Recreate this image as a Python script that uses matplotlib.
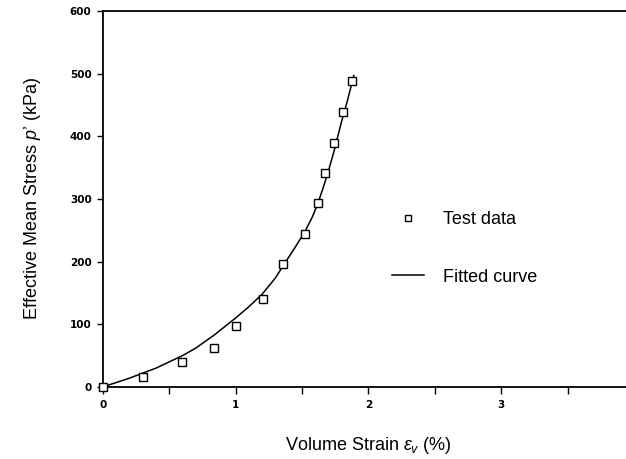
import matplotlib
matplotlib.use("Agg")
import matplotlib.pyplot as plt

# Test data (volume strain %, effective mean stress kPa)
test_strain = [0.0, 0.30, 0.60, 0.84, 1.00, 1.21, 1.36, 1.52, 1.62, 1.67, 1.74, 1.81, 1.875]
test_stress = [0, 16, 40, 63, 98, 141, 196, 244, 293, 341, 390, 439, 489]

# Fitted curve
fit_strain = [0.0, 0.1, 0.2, 0.3, 0.4, 0.5, 0.6, 0.7, 0.84, 1.0, 1.1, 1.2, 1.3, 1.36,
              1.44, 1.52, 1.58, 1.62, 1.66, 1.70, 1.74, 1.77, 1.80, 1.84, 1.87, 1.89]
fit_stress = [0, 7, 14, 22, 30, 40, 50, 62, 83, 110, 128, 148, 174, 194,
              220, 247, 272, 293, 318, 345, 375, 400, 425, 455, 480, 497]

x_ticks = [0, 1, 2, 3]
x_minor = [0.5, 1.5, 2.5, 3.5]
y_ticks = [0, 100, 200, 300, 400, 500, 600]

plt.rcParams['font.family'] = ['Liberation Sans', 'DejaVu Sans']
plt.rcParams['mathtext.fontset'] = 'custom'
plt.rcParams['mathtext.rm'] = 'Liberation Sans'
plt.rcParams['mathtext.it'] = 'Liberation Sans:italic'

fig = plt.figure(figsize=(6.26, 4.59), dpi=100)
ax = fig.add_axes([102.7 / 626, 1 - 387 / 459, (634 - 102.7) / 626, (387 - 11) / 459])

ax.plot(fit_strain, fit_stress, color='black', lw=1.1, label='Fitted curve')
ax.plot(test_strain, test_stress, linestyle='none', marker='s', markersize=5.2,
        markerfacecolor='white', markeredgecolor='black', markeredgewidth=1.0,
        label='Test data', clip_on=False, zorder=3)

ax.set_xlim(0, 4)
ax.set_ylim(0, 600)
ax.set_xticks(x_ticks)
ax.set_xticks(x_minor, minor=True)
ax.set_yticks(y_ticks)
for lab in ax.get_xticklabels() + ax.get_yticklabels():
    lab.set_fontfamily('DejaVu Sans')
    lab.set_fontweight('bold')
    lab.set_fontsize(7.5)
ax.tick_params(axis='both', direction='out', length=5, width=1.0, pad=4)
ax.tick_params(axis='x', which='minor', direction='out', length=5, width=1.0)
ax.tick_params(axis='y', length=4)

for s in ['left', 'bottom', 'top']:
    ax.spines[s].set_linewidth(1.3)
ax.spines['right'].set_visible(False)

ax.set_xlabel(r"Volume Strain $\varepsilon_v$ (%)", fontsize=13, labelpad=18)
ax.set_ylabel(r"Effective Mean Stress $p$’ (kPa)", fontsize=13, labelpad=19)

h, l = ax.get_legend_handles_labels()
leg = ax.legend([h[1], h[0]], [l[1], l[0]], frameon=False, fontsize=13,
                loc='upper left', bbox_to_anchor=(392 / 626, 1 - 211 / 459),
                bbox_transform=fig.transFigure, borderpad=0, borderaxespad=0,
                handlelength=1.75, handletextpad=1.1, labelspacing=2.25,
                markerscale=0.8)

fig.savefig('out.png', dpi=100)
